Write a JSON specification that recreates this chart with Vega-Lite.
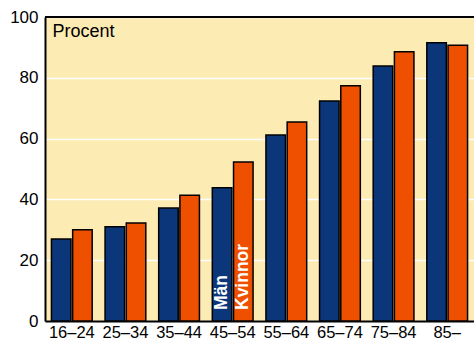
{
  "$schema": "https://vega.github.io/schema/vega-lite/v6.json",
  "width": 429,
  "height": 304,
  "autosize": {"type": "none"},
  "padding": {"left": 45, "top": 17, "right": 0, "bottom": 20},
  "background": "white",
  "config": {
    "view": {"stroke": null, "fill": "#fdebb4"},
    "font": "Liberation Sans"
  },
  "data": {
    "values": [
      {"age": "16–24", "sex": "Män", "value": 27.0},
      {"age": "16–24", "sex": "Kvinnor", "value": 30.0},
      {"age": "25–34", "sex": "Män", "value": 31.0},
      {"age": "25–34", "sex": "Kvinnor", "value": 32.2},
      {"age": "35–44", "sex": "Män", "value": 37.2},
      {"age": "35–44", "sex": "Kvinnor", "value": 41.4},
      {"age": "45–54", "sex": "Män", "value": 43.8},
      {"age": "45–54", "sex": "Kvinnor", "value": 52.3},
      {"age": "55–64", "sex": "Män", "value": 61.2},
      {"age": "55–64", "sex": "Kvinnor", "value": 65.5},
      {"age": "65–74", "sex": "Män", "value": 72.4},
      {"age": "65–74", "sex": "Kvinnor", "value": 77.4},
      {"age": "75–84", "sex": "Män", "value": 83.9},
      {"age": "75–84", "sex": "Kvinnor", "value": 88.6},
      {"age": "85–", "sex": "Män", "value": 91.5},
      {"age": "85–", "sex": "Kvinnor", "value": 90.7}
    ]
  },
  "layer": [
    {
      "mark": {"type": "bar", "stroke": "black", "strokeWidth": 1.5},
      "encoding": {
        "x": {
          "field": "age", "type": "nominal", "sort": null,
          "scale": {"paddingInner": 0.24, "paddingOuter": 0.12},
          "axis": {
            "title": null, "labelAngle": 0, "labelFontSize": 16.5, "labelColor": "black",
            "labelPadding": 3, "ticks": false, "domainColor": "black", "domainWidth": 2,
            "labelFont": "Liberation Sans"
          }
        },
        "xOffset": {"field": "sex", "type": "nominal", "sort": ["Män", "Kvinnor"], "scale": {"paddingInner": 0.08}},
        "y": {
          "field": "value", "type": "quantitative",
          "scale": {"domain": [0, 100], "nice": false},
          "axis": {
            "values": [0, 20, 40, 60, 80, 100],
            "title": "Procent", "titleAngle": 0, "titleAlign": "left", "titleBaseline": "middle",
            "titleX": 7, "titleY": 14, "titleFontSize": 18, "titleFontWeight": "normal", "titleColor": "black",
            "titleFont": "Liberation Sans",
            "labelFontSize": 17, "labelColor": "black", "labelPadding": 7, "ticks": false,
            "domainColor": "black", "domainWidth": 2, "grid": true, "gridColor": "white", "gridWidth": 1.5,
            "labelFont": "Liberation Sans"
          }
        },
        "color": {
          "field": "sex", "type": "nominal",
          "scale": {"domain": ["Män", "Kvinnor"], "range": ["#0b3679", "#ef5000"]},
          "legend": null
        }
      }
    },
    {
      "transform": [{"filter": "datum.age === '45–54'"}],
      "mark": {"type": "text", "angle": 270, "align": "left", "baseline": "middle", "dx": 11, "fontSize": 17.5, "fontWeight": "bold", "color": "white", "font": "Liberation Sans"},
      "encoding": {
        "x": {"field": "age", "type": "nominal", "sort": null},
        "xOffset": {"field": "sex", "type": "nominal", "sort": ["Män", "Kvinnor"]},
        "y": {"datum": 0, "type": "quantitative"},
        "text": {"field": "sex"}
      }
    },
    {
      "data": {"values": [{"top": 100}]},
      "mark": {"type": "rule", "color": "black", "strokeWidth": 2},
      "encoding": {"y": {"field": "top", "type": "quantitative"}}
    }
  ]
}
